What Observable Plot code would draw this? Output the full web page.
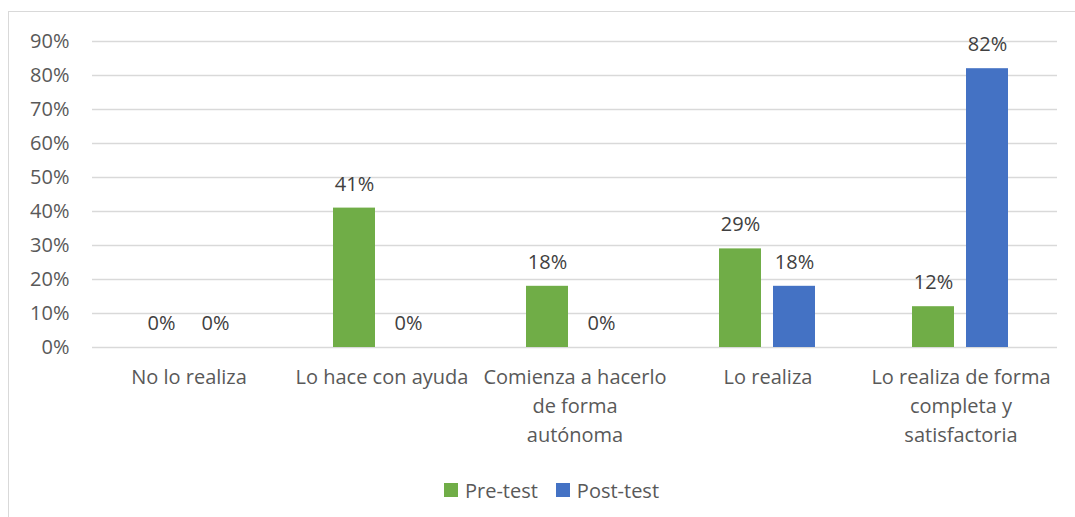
<!DOCTYPE html>
<html>
<head>
<meta charset="utf-8">
<script src="https://cdn.jsdelivr.net/npm/d3@7"></script>
<script src="https://cdn.jsdelivr.net/npm/@observablehq/plot@0.6"></script>
<style>
  html, body { margin: 0; padding: 0; background: #fff; }
  body { width: 1075px; height: 517px; position: relative; overflow: hidden; font-family: "Open Sans", sans-serif; }
  #frame { position: absolute; left: 8px; top: 11px; width: 1100px; height: 540px; border: 1px solid #d9d9d9; box-sizing: border-box; }
  #chart { position: absolute; left: 0; top: 0; }
  #legend { position: absolute; left: 0; width: 1103px; top: 476px; text-align: center; font-size: 20px; color: #595959; }
  #legend span.item { display: inline-flex; align-items: center; margin: 0 9px; }
  #legend span.sw { display: inline-block; width: 14px; height: 14px; margin-right: 7px; }
</style>
</head>
<body>
<div id="frame"></div>
<div id="chart"></div>
<div id="legend"></div>
<script>
const categories = ["No lo realiza", "Lo hace con ayuda", "Comienza a hacerlo de forma autónoma", "Lo realiza", "Lo realiza de forma completa y satisfactoria"];
const categoryLabels = ["No lo realiza", "Lo hace con ayuda", "Comienza a hacerlo\nde forma\nautónoma", "Lo realiza", "Lo realiza de forma\ncompleta y\nsatisfactoria"];
const series = ["Pre-test", "Post-test"];
const preTest = [0.00, 0.41, 0.18, 0.29, 0.12];
const postTest = [0.00, 0.00, 0.00, 0.18, 0.82];
const yTicks = [0, 0.1, 0.2, 0.3, 0.4, 0.5, 0.6, 0.7, 0.8, 0.9];
const colors = ["#70AD47", "#4472C4"];

const data = [];
categories.forEach((c, i) => {
  data.push({category: c, series: series[0], value: preTest[i]});
  data.push({category: c, series: series[1], value: postTest[i]});
});
const labelRows = categories.map((c, i) => ({category: c, label: categoryLabels[i]}));

const fmt = d3.format(".0%");

const chart = Plot.plot({
  width: 1075,
  height: 517,
  marginTop: 41,
  marginBottom: 170,
  marginLeft: 90,
  marginRight: 17,
  style: {fontFamily: "'Open Sans', sans-serif", fontSize: "20px", background: "transparent"},
  fx: {domain: categories, padding: 0, axis: null},
  x: {domain: series, paddingInner: 0.218, paddingOuter: 0.869, axis: null},
  y: {domain: [0, 0.9], axis: null},
  color: {domain: series, range: colors},
  marks: [
    Plot.ruleY(yTicks, {y: d => d, stroke: "#d9d9d9", strokeWidth: 1.5}),
    Plot.axisY({ticks: yTicks, tickFormat: fmt, tickSize: 0, tickPadding: 23, label: null, fill: "#595959", fontSize: 20}),
    Plot.barY(data, {fx: "category", x: "series", y: "value", fill: "series"}),
    Plot.text(data, {fx: "category", x: "series", y: "value", text: d => fmt(d.value), dy: -24, fill: "#404040", fontSize: 20}),
    Plot.text(labelRows, {fx: "category", text: "label", frameAnchor: "bottom", lineAnchor: "top", dy: 16, lineHeight: 1.45, fill: "#595959", fontSize: 20})
  ]
});
document.getElementById("chart").appendChild(chart);

const legend = document.getElementById("legend");
series.forEach((s, i) => {
  const item = document.createElement("span");
  item.className = "item";
  const sw = document.createElement("span");
  sw.className = "sw";
  sw.style.background = colors[i];
  item.appendChild(sw);
  item.appendChild(document.createTextNode(s));
  legend.appendChild(item);
});
</script>
</body>
</html>
